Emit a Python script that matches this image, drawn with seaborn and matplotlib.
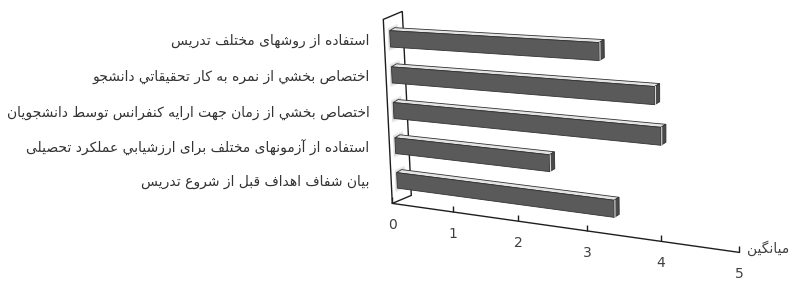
import numpy as np
import seaborn as sns
import matplotlib.pyplot as plt
import matplotlib.transforms as mtransforms
from matplotlib.patches import Polygon

items = [
    'استفاده از روشهای مختلف تدریس',
    'اختصاص بخشي از نمره به کار تحقيقاتي دانشجو',
    'اختصاص بخشي از زمان جهت ارایه کنفرانس توسط دانشجویان',
    'استفاده از آزمونهای مختلف برای ارزشيابي عملکرد تحصیلی',
    'بیان شفاف اهداف قبل از شروع تدریس',
]
means = [3.12, 3.85, 3.93, 2.4, 3.3]
ticks = [0, 1, 2, 3, 4, 5]
xlabel = 'میانگین'

# matplotlib has no arabic shaping, so pick presentation forms by hand and reverse
FORMS = {'ا': 0xFE8D, 'آ': 0xFE81, 'ب': 0xFE8F, 'ت': 0xFE95, 'ج': 0xFE9D, 'ح': 0xFEA1,
         'خ': 0xFEA5, 'د': 0xFEA9, 'ر': 0xFEAD, 'ز': 0xFEAF, 'س': 0xFEB1, 'ش': 0xFEB5,
         'ص': 0xFEB9, 'ط': 0xFEC1, 'ع': 0xFEC9, 'ف': 0xFED1, 'ق': 0xFED5, 'ل': 0xFEDD,
         'م': 0xFEE1, 'ن': 0xFEE5, 'ه': 0xFEE9, 'و': 0xFEED, 'ي': 0xFEF1, 'ک': 0xFB8E,
         'گ': 0xFB92, 'ی': 0xFBFC, 'پ': 0xFB56, 'چ': 0xFB7A, 'ژ': 0xFB8A}
DUAL = set('بپتجچحخسشصطعفقکگلمنهیي')


def shape(s):
    out = []
    for i, c in enumerate(s):
        if c not in FORMS:
            out.append(c)
            continue
        jp = i > 0 and s[i - 1] in DUAL
        jn = c in DUAL and i + 1 < len(s) and s[i + 1] in FORMS
        k = 3 if (jp and jn) else 1 if jp else 2 if jn else 0
        out.append(chr(FORMS[c] + k))
    return ''.join(out)[::-1]


class Persp(mtransforms.Transform):
    input_dims = 2
    output_dims = 2

    def __init__(self, M):
        super().__init__()
        self.M = M

    def transform_non_affine(self, values):
        v = np.asarray(values, float).reshape(-1, 2)
        p = np.column_stack([v, np.ones(len(v))]) @ self.M.T
        return p[:, :2] / p[:, 2:]


W, H = 805, 291
# plane of the bars: (value, category) -> pixel, picture is in perspective
src = [(0, -0.6), (0, 4.6), (5, 4.6), (5, -0.6)]
dst = [(389, 17), (398, 201), (745, 250), (748, 35)]
A, b = [], []
for (u, v), (x, y) in zip(src, dst):
    y = H - y
    A.append([u, v, 1, 0, 0, 0, -u * x, -v * x])
    A.append([0, 0, 0, u, v, 1, -u * y, -v * y])
    b += [x, y]
M = np.append(np.linalg.solve(np.array(A, float), np.array(b, float)), 1).reshape(3, 3)
persp = Persp(M)

depth = np.array([5, 3])            # bar depth in pixels
front_off = np.array([-5.7, -2.4])  # wall front edge
back_off = np.array([13.3, 5.6])    # wall back edge
v_axis = 4.6

fig = plt.figure(figsize=(W / 100, H / 100), dpi=100)
ax = fig.add_axes([0, 0, 1, 1])
sns.barplot(x=means, y=[shape(s) for s in items], orient='h', color='#5a5a5a',
            saturation=1, width=0.45, errorbar=None, ax=ax)
ax.set_axis_off()
bars = list(ax.patches)
ident = mtransforms.IdentityTransform()

# side wall
wt, wb = persp.transform([(0, -0.6), (0, v_axis)])
wall = [wt + front_off, wt + back_off, wb + back_off, wb + front_off]
ax.add_patch(Polygon(wall, closed=True, fc='white', ec='#1e1e1e', lw=1.0,
                     transform=ident, clip_on=False, zorder=1))

for bar in bars:
    bar.set_transform(persp)
    bar.set_clip_on(False)
    bar.set_edgecolor('#333333')
    bar.set_linewidth(0.6)
    bar.set_zorder(4)
    x0, y0 = bar.get_x(), bar.get_y()
    x1, y1 = x0 + bar.get_width(), y0 + bar.get_height()
    tl, tr, br, bl = persp.transform([(x0, y0), (x1, y0), (x1, y1), (x0, y1)])
    # soft shadow of the bar on the wall
    for grow, col in [(7, '#ececec'), (4, '#dadada')]:
        g = np.array([0, grow / 2])
        sh = [tl + g + front_off * 0.3, tl + g + back_off * 0.6,
              bl - g + back_off * 0.6, bl - g + front_off * 0.3]
        ax.add_patch(Polygon(sh, closed=True, fc=col, ec='none',
                             transform=ident, clip_on=False, zorder=1.5))
    top = [tl, tr, tr + depth, tl + depth]
    cap = [tr, tr + depth, br + depth, br]
    ax.add_patch(Polygon(top, closed=True, fc='#e4e4e4', ec='#303030', lw=0.6,
                         transform=ident, clip_on=False, zorder=3))
    ax.add_patch(Polygon(cap, closed=True, fc='#4a4a4a', ec='#303030', lw=0.6,
                         transform=ident, clip_on=False, zorder=3))
    ax.plot([tr[0] + 0.8, br[0] + 0.8], [tr[1], br[1]], color='#d8d8d8', lw=0.8,
            transform=ident, clip_on=False, zorder=5)

# value axis along the front of the floor
axis_tr = persp + mtransforms.Affine2D().translate(*front_off)
ax.plot([ticks[0], ticks[-1]], [v_axis, v_axis], color='#1e1e1e', lw=1.0,
        transform=axis_tr, clip_on=False, zorder=2)
ax.plot(ticks, [v_axis] * len(ticks), ls='none', marker=2, ms=4, mew=1.0,
        color='#1e1e1e', transform=axis_tr, clip_on=False, zorder=2)
for t in ticks:
    ax.text(t, v_axis, str(t), transform=axis_tr + mtransforms.Affine2D().translate(0, -22),
            ha='center', va='center', fontsize=10, color='#404040')
ax.text(ticks[-1], v_axis, shape(xlabel),
        transform=axis_tr + mtransforms.Affine2D().translate(8, 4),
        ha='left', va='center', fontsize=10, color='#404040', family='DejaVu Sans')

# category labels, right aligned in one column
lab_x = wt[0] + front_off[0] - 14
for i, s in enumerate(items):
    y = persp.transform((0, i))[1] - 2
    ax.text(lab_x, y, shape(s), transform=ident, ha='right', va='center',
            fontsize=10, color='#333333', family='DejaVu Sans')

fig.savefig('out.png', dpi=100)
